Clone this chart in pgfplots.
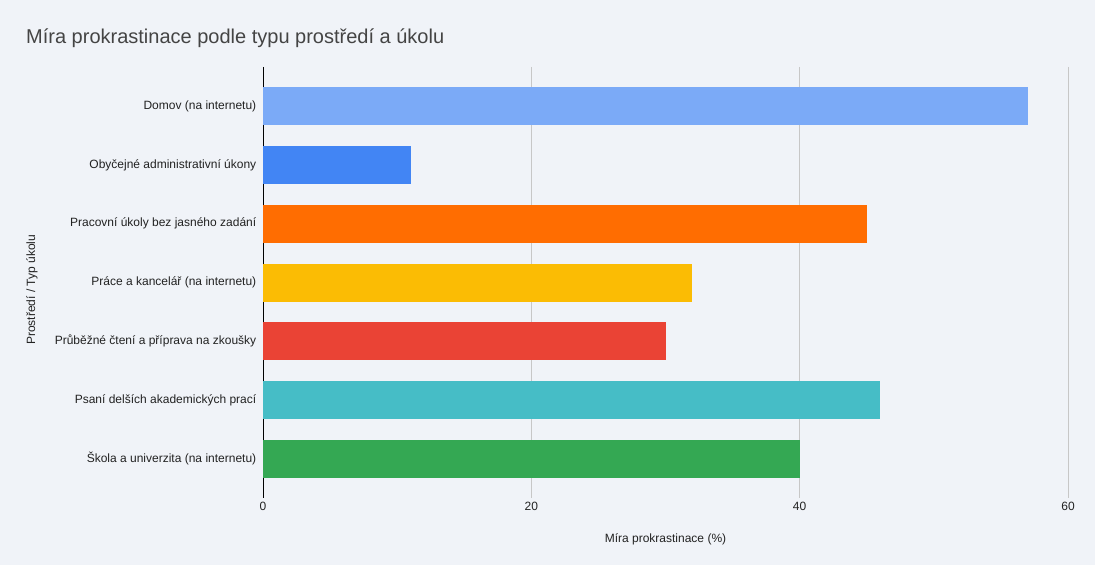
\documentclass[border=0pt]{standalone}
\usepackage{fontspec}
\setmainfont{Liberation Sans}
\usepackage{pgfplots}
\pgfplotsset{compat=1.18}
\definecolor{bg}{RGB}{240,243,248}
\definecolor{cA}{HTML}{7BAAF7}
\definecolor{cB}{HTML}{4285F4}
\definecolor{cC}{HTML}{FF6D01}
\definecolor{cD}{HTML}{FBBC04}
\definecolor{cE}{HTML}{EA4335}
\definecolor{cF}{HTML}{46BDC6}
\definecolor{cG}{HTML}{34A853}
\definecolor{titlec}{HTML}{444444}
\definecolor{txt}{HTML}{222222}
\begin{document}
\begin{tikzpicture}
\path[fill=bg] (0,0) rectangle (1095bp,565bp);
\useasboundingbox (0,0) rectangle (1095bp,565bp);
\node[anchor=base west, text=titlec, font=\fontsize{20bp}{24bp}\selectfont, inner sep=0pt] at (26bp,521bp) {Míra prokrastinace podle typu prostředí a úkolu};
\begin{axis}[
  at={(263bp,67bp)}, anchor=south west,
  scale only axis, width=805bp, height=431bp,
  xmin=0, xmax=60, ymin=-0.67, ymax=6.67,
  y dir=reverse,
  axis line style={draw=none},
  tick style={draw=none},
  xtick={20,40,60},
  extra x ticks={0},
  extra x tick style={grid style={draw=black, line width=0.8pt}},
  xmajorgrids,
  grid style={draw=black!22, line width=0.8pt},
  ytick={0,1,2,3,4,5,6},
  yticklabels={Domov (na internetu),Obyčejné administrativní úkony,Pracovní úkoly bez jasného zadání,Práce a kancelář (na internetu),Průběžné čtení a příprava na zkoušky,Psaní delších akademických prací,Škola a univerzita (na internetu)},
  ticklabel style={font=\fontsize{12bp}{14bp}\selectfont, text=txt},
  /pgf/number format/assume math mode=true,
  yticklabel style={xshift=1bp},
  xticklabel style={yshift=-1bp},
  xlabel={Míra prokrastinace (\%)},
  ylabel={Prostředí / Typ úkolu},
  label style={font=\fontsize{12bp}{14bp}\selectfont, text=txt},
  xlabel style={at={(axis description cs:0.5,-0.097)}, anchor=center},
  ylabel style={at={(axis description cs:-0.287,0.483)}, anchor=center, rotate=0},
  xbar, bar width=38bp, bar shift=0pt,
]
\addplot[fill=cA, draw=none] coordinates {(57,0)};
\addplot[fill=cB, draw=none] coordinates {(11,1)};
\addplot[fill=cC, draw=none] coordinates {(45,2)};
\addplot[fill=cD, draw=none] coordinates {(32,3)};
\addplot[fill=cE, draw=none] coordinates {(30,4)};
\addplot[fill=cF, draw=none] coordinates {(46,5)};
\addplot[fill=cG, draw=none] coordinates {(40,6)};
\end{axis}
\end{tikzpicture}
\end{document}
